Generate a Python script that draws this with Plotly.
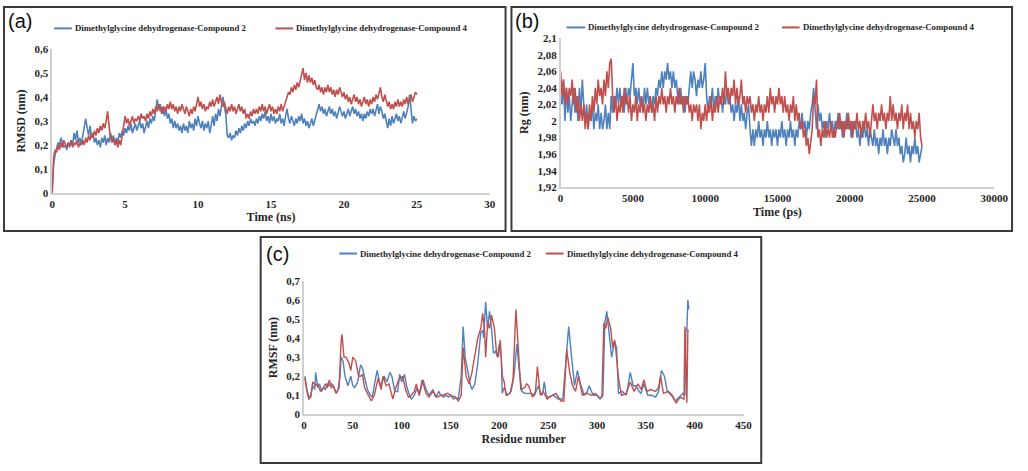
import numpy as np
import plotly.graph_objects as go

W, H = 1028, 471
BLUE = '#4F81BD'
RED = '#C0504D'
SERIES_NAMES = ['Dimethylglycine dehydrogenase-Compound 2', 'Dimethylglycine dehydrogenase-Compound 4']

# ---------------- (a) RMSD, sampled every 0.1 ns ----------------
rmsd_step_ns = 0.1
rmsd_c2 = [
    0, 0.12, 0.16, 0.19, 0.21, 0.2, 0.23, 0.21, 0.19, 0.2,
    0.18, 0.21, 0.19, 0.22, 0.2, 0.25, 0.22, 0.26, 0.21, 0.23,
    0.2, 0.24, 0.28, 0.31, 0.27, 0.24, 0.28, 0.23, 0.25, 0.21,
    0.23, 0.2, 0.22, 0.19, 0.23, 0.21, 0.24, 0.2, 0.23, 0.21,
    0.25, 0.22, 0.24, 0.2, 0.23, 0.21, 0.25, 0.23, 0.26, 0.24,
    0.27, 0.25, 0.28, 0.26, 0.29, 0.25, 0.27, 0.29, 0.26, 0.28,
    0.3, 0.27, 0.29, 0.25, 0.28, 0.3, 0.27, 0.31, 0.29, 0.32,
    0.3, 0.34, 0.39, 0.35, 0.37, 0.33, 0.36, 0.32, 0.35, 0.31,
    0.33, 0.29, 0.31, 0.27, 0.3, 0.27, 0.29, 0.26, 0.28, 0.25,
    0.29, 0.26, 0.28, 0.25, 0.3, 0.27, 0.29, 0.26, 0.31, 0.28,
    0.32, 0.29, 0.27, 0.3, 0.26, 0.29, 0.27, 0.3, 0.25, 0.28,
    0.32, 0.28, 0.33, 0.3, 0.35, 0.32, 0.37, 0.4, 0.36, 0.33,
    0.24, 0.23, 0.25, 0.22, 0.24, 0.23, 0.26, 0.24, 0.27, 0.25,
    0.28, 0.26, 0.29, 0.27, 0.3, 0.28, 0.31, 0.29, 0.3, 0.28,
    0.31, 0.29, 0.32, 0.3, 0.33, 0.31, 0.34, 0.3, 0.32, 0.29,
    0.33, 0.3, 0.32, 0.29, 0.31, 0.3, 0.33, 0.29, 0.31, 0.28,
    0.32, 0.35, 0.31, 0.29, 0.32, 0.3, 0.28, 0.31, 0.29, 0.32,
    0.3, 0.33, 0.29, 0.31, 0.28, 0.3, 0.27, 0.29, 0.31, 0.28,
    0.3, 0.33, 0.35, 0.37, 0.34, 0.36, 0.33, 0.35, 0.32, 0.34,
    0.36, 0.33, 0.35, 0.32, 0.34, 0.31, 0.33, 0.36, 0.34, 0.32,
    0.34, 0.31, 0.33, 0.35, 0.32, 0.34, 0.36, 0.33, 0.35, 0.32,
    0.34, 0.31, 0.33, 0.3, 0.33, 0.31, 0.34, 0.32, 0.35, 0.33,
    0.35, 0.32, 0.34, 0.37, 0.33, 0.36, 0.34, 0.31, 0.33, 0.3,
    0.27, 0.31, 0.28, 0.32, 0.29, 0.31, 0.33, 0.3, 0.32, 0.29,
    0.31, 0.34, 0.31, 0.33, 0.36, 0.41, 0.33, 0.29, 0.32, 0.3,
    0.31,
]
rmsd_c4 = [
    0, 0.15, 0.18, 0.17, 0.2, 0.18, 0.21, 0.19, 0.22, 0.2,
    0.19, 0.21, 0.2, 0.22, 0.19, 0.21, 0.2, 0.22, 0.19, 0.21,
    0.2, 0.22, 0.2, 0.23, 0.21, 0.24, 0.22, 0.25, 0.23, 0.26,
    0.24, 0.27, 0.25, 0.28, 0.26, 0.29, 0.27, 0.3, 0.34, 0.28,
    0.23, 0.21, 0.23, 0.2, 0.22, 0.19, 0.22, 0.2, 0.24, 0.27,
    0.32, 0.29, 0.31, 0.28, 0.3, 0.32, 0.29, 0.31, 0.3, 0.32,
    0.3, 0.33, 0.31, 0.32, 0.3, 0.33, 0.31, 0.34, 0.32, 0.35,
    0.33, 0.36, 0.34, 0.37, 0.34, 0.36, 0.33, 0.36, 0.34, 0.37,
    0.35, 0.38, 0.35, 0.37, 0.34, 0.36, 0.33, 0.36, 0.34, 0.37,
    0.35, 0.33, 0.36, 0.34, 0.32, 0.35, 0.33, 0.36, 0.34, 0.37,
    0.4, 0.36, 0.38, 0.35, 0.37, 0.34, 0.36, 0.35, 0.38, 0.36,
    0.39, 0.36, 0.38, 0.4, 0.37, 0.41, 0.38, 0.36, 0.38, 0.35,
    0.33, 0.36, 0.34, 0.37, 0.34, 0.36, 0.33, 0.35, 0.37, 0.34,
    0.36, 0.33, 0.35, 0.31, 0.33, 0.31, 0.34, 0.32, 0.35, 0.33,
    0.35, 0.33, 0.36, 0.34, 0.37, 0.34, 0.36, 0.33, 0.35, 0.37,
    0.34, 0.36, 0.33, 0.35, 0.33, 0.36, 0.34, 0.37, 0.34, 0.36,
    0.38, 0.4, 0.42, 0.41, 0.44, 0.42, 0.45, 0.43, 0.46, 0.44,
    0.47, 0.5, 0.52, 0.47, 0.5, 0.46, 0.49, 0.46, 0.48, 0.45,
    0.47, 0.44, 0.43, 0.45, 0.42, 0.44, 0.41, 0.44, 0.42, 0.45,
    0.42, 0.44, 0.41, 0.43, 0.4, 0.43, 0.41, 0.44, 0.42, 0.4,
    0.42, 0.39, 0.41, 0.38, 0.4, 0.37, 0.39, 0.41, 0.38, 0.4,
    0.37, 0.39, 0.36, 0.38, 0.4, 0.37, 0.39, 0.36, 0.39, 0.37,
    0.4, 0.38, 0.41, 0.39, 0.42, 0.44, 0.4, 0.38, 0.41, 0.39,
    0.36, 0.38, 0.35, 0.37, 0.35, 0.38, 0.36, 0.39, 0.36, 0.38,
    0.36, 0.39, 0.37, 0.4, 0.37, 0.39, 0.41, 0.38, 0.4, 0.42,
    0.41,
]

# ---------------- (b) Rg, sampled every 100 ps ----------------
rg_step_ps = 100
rg_c2 = [
    2.03, 2.02, 2.05, 2.0, 2.04, 2.01, 2.03, 2.0, 2.02, 2.04,
    2.01, 2.03, 2.0, 2.04, 2.01, 2.05, 2.02, 2.0, 2.02, 1.99,
    2.01, 2.0, 2.02, 1.99, 2.01, 2.0, 2.02, 1.99, 2.01, 1.99,
    2.0, 2.02, 1.99, 2.01, 1.99, 2.03, 2.01, 2.03, 2.02, 2.04,
    2.02, 2.04, 2.02, 2.03, 2.01, 2.04, 2.02, 2.04, 2.03, 2.05,
    2.07, 2.03, 2.04, 2.02, 2.04, 2.02, 2.03, 2.01, 2.04, 2.02,
    2.04, 2.02, 2.03, 2.01, 2.03, 2.02, 2.04, 2.03, 2.05, 2.04,
    2.06, 2.04, 2.06, 2.05, 2.07, 2.05, 2.06, 2.04, 2.06, 2.04,
    2.05, 2.03, 2.02, 2.04, 2.02, 2.03, 2.01, 2.03, 2.02, 2.04,
    2.06, 2.04, 2.06, 2.05, 2.03, 2.05, 2.04, 2.06, 2.04, 2.05,
    2.07, 2.03, 2.01, 2.03, 2.02, 2.04, 2.01, 2.03, 2.02, 2.04,
    2.02, 2.03, 2.01, 2.03, 2.02, 2.04, 2.02, 2.03, 2.01, 2.02,
    2.0, 2.02, 2.01, 2.03, 2.0, 2.02, 2.0, 2.01, 1.99, 2.01,
    2.02, 1.99, 1.97, 1.99, 1.97, 1.99, 1.98, 2.0, 1.98, 1.99,
    1.97, 1.99, 1.98, 2.0, 1.98, 1.99, 1.97, 1.99, 1.98, 1.99,
    1.97, 1.99, 1.98, 2.0, 1.98, 1.99, 1.97, 1.99, 1.98, 2.0,
    1.98, 1.99, 1.97, 1.99, 1.98, 2.0, 1.99, 2.01, 1.99, 2.0,
    1.98, 2.0, 1.99, 2.01, 2.02, 2.04, 2.01, 1.99, 2.02, 2.0,
    2.01, 1.99, 2.0, 1.98, 2.0, 1.99, 2.01, 1.99, 2.0, 1.98,
    2.0, 1.99, 2.01, 1.99, 2.0, 1.98, 2.0, 1.99, 2.01, 1.99,
    2.0, 1.98, 2.0, 1.99, 2.0, 1.98, 1.99, 1.97, 1.99, 1.98,
    2.0, 1.98, 1.99, 1.97, 1.99, 1.98, 1.97, 1.99, 1.97, 1.98,
    1.96, 1.98, 1.97, 1.99, 1.97, 1.98, 1.96, 1.98, 1.97, 1.99,
    1.98, 1.97, 1.99, 1.97, 1.98, 1.96, 1.97, 1.95, 1.96, 1.98,
    1.96, 1.97, 1.95, 1.97, 1.96, 1.98, 1.96, 1.97, 1.95, 1.96,
    1.97,
]
rg_c4 = [
    2.06, 2.03, 2.05, 2.02, 2.04, 2.02, 2.04, 2.03, 2.05, 2.02,
    2.04, 2.01, 2.03, 2.0, 2.02, 2.0, 2.02, 1.99, 2.01, 1.99,
    2.02, 2.0, 2.03, 2.01, 2.04, 2.02, 2.05, 2.03, 2.04, 2.02,
    2.05, 2.03, 2.06, 2.04, 2.07, 2.075, 2.03, 2.01, 2.03, 2.0,
    2.02, 2.01, 2.03, 2.01, 2.04, 2.02, 2.03, 2.01, 2.03, 2.0,
    2.02, 2.01, 2.03, 2.0, 2.02, 2.01, 2.03, 2.01, 2.02, 2.0,
    2.02, 2.01, 2.03, 2.01, 2.02, 2.0, 2.03, 2.01, 2.03, 2.02,
    2.04, 2.02, 2.03, 2.01, 2.03, 2.02, 2.04, 2.02, 2.03, 2.01,
    2.03, 2.02, 2.04, 2.02, 2.03, 2.01, 2.03, 2.02, 2.03, 2.01,
    2.02, 2.0, 2.02, 2.01, 2.02, 2.0, 2.02, 1.99, 2.01, 2.0,
    2.02, 2.0, 2.02, 2.01, 2.03, 2.0, 2.02, 2.01, 2.03, 2.01,
    2.03, 2.02, 2.04, 2.02, 2.06, 2.03, 2.04, 2.02, 2.04, 2.03,
    2.05, 2.02, 2.04, 2.02, 2.03, 2.05, 2.02, 2.03, 2.01, 2.03,
    2.02, 2.03, 2.01, 2.02, 2.0, 2.02, 2.01, 2.03, 2.01, 2.02,
    2.0, 2.02, 2.01, 2.03, 2.01, 2.04, 2.02, 2.03, 2.01, 2.03,
    2.02, 2.04, 2.02, 2.03, 2.01, 2.03, 2.01, 2.02, 2.0, 2.02,
    2.01, 2.03, 2.0, 2.02, 2.0, 2.01, 1.99, 2.0, 1.98, 1.99,
    1.97, 1.98, 1.96, 1.98, 1.99, 2.03, 2.02, 2.05, 1.98, 1.99,
    1.97, 1.99, 1.98, 2.0, 1.98, 1.99, 1.98, 2.0, 1.98, 1.99,
    1.98, 2.0, 1.99, 2.01, 1.99, 2.0, 1.98, 2.0, 1.99, 2.01,
    1.99, 2.0, 1.98, 2.0, 1.99, 2.01, 1.99, 2.0, 1.98, 2.0,
    1.99, 2.01, 1.99, 2.0, 1.98, 2.0, 2.02, 2.0, 2.01, 1.99,
    2.01, 2.0, 2.02, 2.0, 2.01, 1.99, 2.01, 2.0, 2.03, 2.0,
    2.02, 2.0, 2.01, 1.99, 2.01, 2.0, 2.02, 1.99, 2.01, 2.0,
    2.02, 1.99, 2.01, 1.99, 2.0, 1.98, 2.0, 1.99, 2.01, 1.98,
    1.97,
]

# ---------------- (c) RMSF per residue ----------------
rmsf_c2_res = [1, 3, 5, 7, 9, 11, 12, 14, 16, 18, 20, 22, 24, 26, 28, 30, 33, 35, 37, 38,
               40, 42, 45, 48, 50, 52, 55, 58, 60, 62, 65, 68, 70, 73, 75, 78, 80, 82, 85, 88,
               90, 93, 96, 98, 100, 103, 105, 108, 110, 113, 116, 118, 122, 125, 128, 132, 135, 138, 140, 143,
               145, 148, 150, 153, 155, 158, 161, 163, 165, 168, 170, 172, 175, 178, 181, 183, 184, 186, 188, 190,
               192, 194, 196, 198, 200, 202, 203, 205, 208, 212, 215, 218, 220, 223, 226, 228, 232, 236, 240, 242,
               244, 246, 248, 250, 255, 258, 260, 265, 268, 271, 274, 277, 280, 283, 287, 290, 292, 294, 296, 300,
               303, 306, 308, 310, 313, 315, 318, 320, 322, 326, 330, 334, 337, 340, 343, 345, 348, 352, 356, 360,
               363, 366, 369, 372, 376, 380, 384, 388, 390, 391, 392, 393, 394]
rmsf_c2 = [0.2, 0.13, 0.09, 0.1, 0.15, 0.13, 0.22, 0.14, 0.16, 0.12, 0.14, 0.13, 0.16, 0.15, 0.16, 0.15, 0.11, 0.13, 0.2, 0.3,
           0.28, 0.2, 0.15, 0.2, 0.15, 0.14, 0.17, 0.26, 0.24, 0.2, 0.13, 0.1, 0.09, 0.18, 0.23, 0.15, 0.17, 0.2, 0.17, 0.22,
           0.2, 0.12, 0.12, 0.21, 0.17, 0.21, 0.15, 0.1, 0.08, 0.1, 0.14, 0.1, 0.18, 0.13, 0.1, 0.13, 0.09, 0.12, 0.1, 0.09,
           0.1, 0.09, 0.1, 0.08, 0.09, 0.08, 0.2, 0.46, 0.3, 0.22, 0.16, 0.13, 0.16, 0.27, 0.43, 0.44, 0.4, 0.59, 0.45, 0.54,
           0.45, 0.32, 0.33, 0.3, 0.37, 0.3, 0.11, 0.14, 0.1, 0.12, 0.2, 0.37, 0.25, 0.12, 0.11, 0.11, 0.11, 0.1, 0.15, 0.11,
           0.1, 0.17, 0.1, 0.09, 0.1, 0.09, 0.08, 0.08, 0.25, 0.46, 0.3, 0.15, 0.23, 0.16, 0.1, 0.12, 0.15, 0.12, 0.1, 0.1,
           0.08, 0.1, 0.48, 0.54, 0.4, 0.3, 0.38, 0.35, 0.11, 0.12, 0.1, 0.22, 0.15, 0.15, 0.12, 0.11, 0.16, 0.1, 0.1, 0.09,
           0.12, 0.23, 0.2, 0.12, 0.1, 0.07, 0.09, 0.11, 0.1, 0.45, 0.44, 0.6, 0.55]
rmsf_c4_res = [1, 3, 5, 7, 9, 12, 14, 17, 20, 22, 24, 26, 28, 30, 33, 36, 38, 39, 41, 43,
               46, 48, 50, 53, 56, 58, 60, 62, 65, 69, 72, 76, 79, 81, 84, 87, 89, 91, 94, 97,
               101, 104, 107, 110, 113, 115, 118, 121, 125, 128, 132, 136, 140, 142, 147, 150, 155, 158, 161, 163,
               166, 169, 172, 175, 178, 181, 183, 185, 186, 188, 190, 192, 195, 197, 199, 201, 203, 205, 207, 211,
               214, 217, 219, 222, 226, 228, 230, 234, 237, 239, 242, 245, 249, 254, 258, 263, 266, 269, 272, 275,
               278, 281, 285, 290, 294, 298, 302, 305, 307, 309, 311, 314, 316, 318, 320, 322, 325, 330, 334, 338,
               342, 345, 348, 351, 355, 360, 363, 365, 368, 373, 377, 381, 385, 389, 390, 392, 393, 394]
rmsf_c4 = [0.19, 0.12, 0.08, 0.09, 0.17, 0.15, 0.16, 0.12, 0.14, 0.16, 0.14, 0.18, 0.14, 0.15, 0.11, 0.14, 0.38, 0.42, 0.3, 0.3,
           0.27, 0.23, 0.3, 0.28, 0.2, 0.2, 0.21, 0.14, 0.11, 0.07, 0.1, 0.19, 0.13, 0.2, 0.15, 0.16, 0.12, 0.08, 0.14, 0.18,
           0.2, 0.13, 0.09, 0.1, 0.12, 0.16, 0.1, 0.18, 0.11, 0.09, 0.12, 0.09, 0.1, 0.1, 0.11, 0.1, 0.09, 0.07, 0.1, 0.35,
           0.2, 0.16, 0.22, 0.3, 0.4, 0.45, 0.53, 0.43, 0.3, 0.48, 0.45, 0.52, 0.45, 0.33, 0.3, 0.39, 0.2, 0.17, 0.1, 0.11,
           0.18, 0.55, 0.4, 0.13, 0.14, 0.16, 0.15, 0.09, 0.12, 0.25, 0.1, 0.12, 0.08, 0.1, 0.11, 0.07, 0.07, 0.34, 0.22, 0.15,
           0.12, 0.2, 0.1, 0.11, 0.1, 0.11, 0.09, 0.09, 0.48, 0.45, 0.51, 0.45, 0.35, 0.39, 0.3, 0.19, 0.1, 0.11, 0.17, 0.12,
           0.16, 0.13, 0.18, 0.12, 0.13, 0.12, 0.14, 0.2, 0.11, 0.12, 0.1, 0.06, 0.09, 0.08, 0.46, 0.06, 0.44, 0.44]

# ---------------- axis ticks ----------------
a_xticks = [0, 5, 10, 15, 20, 25, 30]
a_yticks = [0, 0.1, 0.2, 0.3, 0.4, 0.5, 0.6]
a_ytext = ['0', '0,1', '0,2', '0,3', '0,4', '0,5', '0,6']
b_xticks = [0, 5000, 10000, 15000, 20000, 25000, 30000]
b_yticks = [1.92, 1.94, 1.96, 1.98, 2.0, 2.02, 2.04, 2.06, 2.08, 2.1]
b_ytext = ['1,92', '1,94', '1,96', '1,98', '2', '2,02', '2,04', '2,06', '2,08', '2,1']
c_xticks = [0, 50, 100, 150, 200, 250, 300, 350, 400, 450]
c_yticks = [0, 0.1, 0.2, 0.3, 0.4, 0.5, 0.6, 0.7]
c_ytext = ['0', '0,1', '0,2', '0,3', '0,4', '0,5', '0,6', '0,7']


def px(x):
    return x / W


def py(y):
    return 1 - y / H


SERIF = 'Liberation Serif'
TICKFONT = dict(family=SERIF, size=11, color='#262626', weight='bold')
TITLEFONT = dict(family=SERIF, size=12, color='#262626')
AXLINE = '#D0D0D0'

fig = go.Figure()
lw = 1.6
lw_c = 1.4
t_a2 = np.arange(len(rmsd_c2)) * rmsd_step_ns
t_a4 = np.arange(len(rmsd_c4)) * rmsd_step_ns
fig.add_trace(go.Scatter(x=t_a2, y=rmsd_c2, mode='lines', line=dict(color=BLUE, width=lw),
                         name=SERIES_NAMES[0], xaxis='x', yaxis='y', showlegend=False))
fig.add_trace(go.Scatter(x=t_a4, y=rmsd_c4, mode='lines', line=dict(color=RED, width=lw),
                         name=SERIES_NAMES[1], xaxis='x', yaxis='y', showlegend=False))
t_b2 = np.arange(len(rg_c2)) * rg_step_ps
t_b4 = np.arange(len(rg_c4)) * rg_step_ps
fig.add_trace(go.Scatter(x=t_b2, y=rg_c2, mode='lines', line=dict(color=BLUE, width=lw),
                         name=SERIES_NAMES[0], xaxis='x2', yaxis='y2', showlegend=False))
fig.add_trace(go.Scatter(x=t_b4, y=rg_c4, mode='lines', line=dict(color=RED, width=lw),
                         name=SERIES_NAMES[1], xaxis='x2', yaxis='y2', showlegend=False))
fig.add_trace(go.Scatter(x=rmsf_c2_res, y=rmsf_c2, mode='lines', line=dict(color=BLUE, width=lw_c),
                         name=SERIES_NAMES[0], xaxis='x3', yaxis='y3', showlegend=False))
fig.add_trace(go.Scatter(x=rmsf_c4_res, y=rmsf_c4, mode='lines', line=dict(color=RED, width=lw_c),
                         name=SERIES_NAMES[1], xaxis='x3', yaxis='y3', showlegend=False))


def xax(dom, anchor, rng, ticks, title):
    return dict(domain=dom, anchor=anchor, range=rng, tickvals=ticks, ticktext=[str(t) for t in ticks],
                showgrid=False, zeroline=False, showline=True, linecolor=AXLINE, linewidth=1.5,
                ticks='', tickfont=TICKFONT, title=dict(text='<b>' + title + '</b>', font=TITLEFONT, standoff=4))


def yax(dom, anchor, rng, ticks, text, title):
    return dict(domain=dom, anchor=anchor, range=rng, tickvals=ticks, ticktext=text,
                showgrid=False, zeroline=False, showline=True, linecolor=AXLINE, linewidth=1.5,
                ticks='', tickfont=TICKFONT, title=dict(text='<b>' + title + '</b>', font=TITLEFONT, standoff=6))


fig.update_layout(
    width=W, height=H, margin=dict(l=0, r=0, t=0, b=0),
    paper_bgcolor='white', plot_bgcolor='white',
    xaxis=xax([px(50), px(495)], 'y', [0, 30], a_xticks, 'Time (ns)'),
    yaxis=yax([py(192), py(44)], 'x', [0, 0.6], a_yticks, a_ytext, 'RMSD (nm)'),
    xaxis2=xax([px(567), px(1008)], 'y2', [0, 30000], b_xticks, 'Time (ps)'),
    yaxis2=yax([py(186), py(33)], 'x2', [1.92, 2.1], b_yticks, b_ytext, 'Rg (nm)'),
    xaxis3=xax([px(306), px(753)], 'y3', [0, 450], c_xticks, 'Residue number'),
    yaxis3=yax([py(419), py(282)], 'x3', [0, 0.7], c_yticks, c_ytext, 'RMSF (nm)'),
)

shapes = []
annotations = []
# panel frames
for (x0, y0, x1, y1) in [(1, 1, 511, 231), (517, 1, 1026, 231), (262, 237, 771, 469)]:
    shapes.append(dict(type='rect', xref='paper', yref='paper', x0=px(x0), x1=px(x1), y0=py(y1), y1=py(y0),
                       line=dict(color='#3A3A3A', width=2), fillcolor='rgba(0,0,0,0)', layer='above'))

# panel letters
for (lbl, x, y) in [('(a)', 3, 15), ('(b)', 519, 15), ('(c)', 265, 254)]:
    annotations.append(dict(text=lbl, xref='paper', yref='paper', x=px(x), y=py(y), xanchor='left',
                            yanchor='middle', showarrow=False,
                            font=dict(family='Liberation Sans', size=20, color='#111111')))

# legends (line sample + label) for each panel
legend_pos = [
    ((52, 70, 71), (277, 295, 296), 23),
    ((573, 592, 593), (792, 810, 811), 22),
    ((342, 360, 361), (552, 570, 571), 254),
]
for (b, r, yy) in legend_pos:
    for (seg, col, name) in [(b, BLUE, SERIES_NAMES[0]), (r, RED, SERIES_NAMES[1])]:
        shapes.append(dict(type='line', xref='paper', yref='paper', x0=px(seg[0]), x1=px(seg[1]),
                           y0=py(yy), y1=py(yy), line=dict(color=col, width=2)))
        annotations.append(dict(text='<b>' + name + '</b>', xref='paper', yref='paper', x=px(seg[2]), y=py(yy),
                                xanchor='left', yanchor='middle', showarrow=False,
                                font=dict(family=SERIF, size=8.8, color='#262626')))

fig.update_layout(shapes=shapes, annotations=annotations)
fig.write_html('out.html', config={'displayModeBar': False},
               post_script="document.body.style.margin='0';document.body.style.overflow='hidden';")
